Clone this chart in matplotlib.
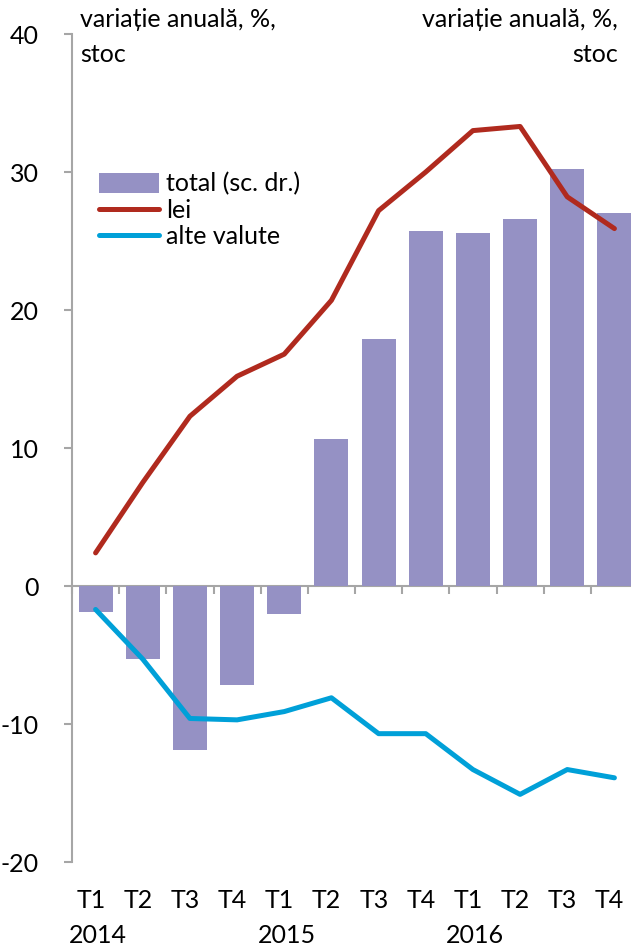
import numpy as np
import matplotlib.pyplot as plt
import matplotlib.transforms as mtransforms

# data
quarters = ["T1", "T2", "T3", "T4", "T1", "T2", "T3", "T4", "T1", "T2", "T3", "T4"]
years = ["2014", "", "", "", "2015", "", "", "", "2016", "", "", ""]
total = [-1.9, -5.3, -11.9, -7.15, -2.05, 10.65, 17.9, 25.7, 25.6, 26.6, 30.2, 27.0]
lei = [2.4, 7.5, 12.3, 15.2, 16.8, 20.7, 27.2, 30.0, 33.0, 33.3, 28.2, 25.9]
alte_valute = [-1.7, -5.3, -9.6, -9.7, -9.1, -8.1, -10.7, -10.7, -13.3, -15.1, -13.3, -13.9]

plt.rcParams['font.family'] = ['Lato', 'DejaVu Sans']
plt.rcParams['axes.unicode_minus'] = False
fs = 18
grey = '#A6A6A6'

fig = plt.figure(figsize=(6.31, 9.49), dpi=100)
ax = fig.add_axes([72/631, 87/949, 566/631, 828/949])

x = np.arange(len(quarters))
b = ax.bar(x, total, width=0.72, color='#9591C4', label='total (sc. dr.)', zorder=2)
l1, = ax.plot(x, lei, color='#B02A1E', lw=3.6, solid_capstyle='round', label='lei', zorder=3)
l2, = ax.plot(x, alte_valute, color='#00A0D8', lw=3.6, solid_capstyle='round', label='alte valute', zorder=3)

ax.set_xlim(-0.5, len(quarters) - 0.5)
ax.set_ylim(-20, 40)
ax.set_yticks([-20, -10, 0, 10, 20, 30, 40])
ax.tick_params(axis='y', direction='out', length=6, color=grey, width=1.5, labelsize=fs, pad=18)

for s in ['top', 'right']:
    ax.spines[s].set_visible(False)
ax.spines['left'].set_color(grey)
ax.spines['left'].set_linewidth(1.5)
ax.spines['bottom'].set_position(('data', 0))
ax.spines['bottom'].set_color(grey)
ax.spines['bottom'].set_linewidth(1.5)
ax.spines['bottom'].set_zorder(1)

# category boundary ticks on the zero line
ax.set_xticks(np.arange(len(quarters) + 1) - 0.5)
ax.set_xticklabels([])
ax.tick_params(axis='x', direction='out', length=6, color=grey, width=1.5)

# category labels below the plot
trans = mtransforms.blended_transform_factory(ax.transData, ax.transAxes)
for i, (q, yr) in enumerate(zip(quarters, years)):
    ax.text(i - 0.1, -0.047, q, transform=trans, ha='center', va='center', fontsize=fs)
    if yr:
        ax.text(i + 0.05, -0.089, yr, transform=trans, ha='center', va='center', fontsize=fs)

fig.text(80/631, 1 - 8/949, 'variație anuală, %,\nstoc', ha='left', va='top',
         fontsize=fs, linespacing=1.65)
fig.text(618/631, 1 - 8/949, 'variație anuală, %,\nstoc', ha='right', va='top',
         fontsize=fs, linespacing=1.65, multialignment='right')

ax.legend(handles=[b, l1, l2], loc='upper left', bbox_to_anchor=(0.03, 0.845), frameon=False,
          fontsize=fs, handlelength=2.4, handleheight=0.8, handletextpad=0.3, labelspacing=0.12,
          borderaxespad=0)

fig.savefig('out.png', dpi=100)
